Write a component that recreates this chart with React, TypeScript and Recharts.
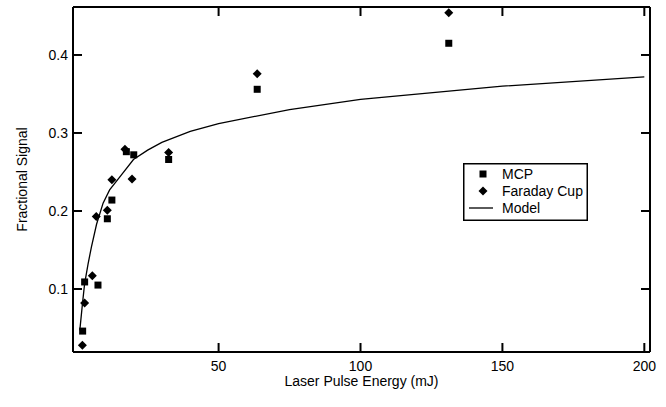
import React from 'react';
import { ComposedChart, Scatter, Line, XAxis, YAxis, Legend, Label } from 'recharts';

// ---- data ----
const mcpX = [2.1, 2.8, 7.5, 10.8, 12.4, 17.5, 20.1, 32.4, 63.6, 131.1];
const mcpY = [0.046, 0.109, 0.105, 0.19, 0.214, 0.276, 0.272, 0.266, 0.356, 0.415];

const faradayX = [2.0, 2.8, 5.5, 6.9, 10.8, 12.4, 17.0, 19.5, 32.4, 63.6, 131.1];
const faradayY = [0.028, 0.082, 0.117, 0.193, 0.201, 0.24, 0.279, 0.241, 0.275, 0.376, 0.454];

const modelX = [1.1, 2, 2.8, 4, 5.2, 7, 9.3, 11.6, 15.7, 20, 25, 30, 40, 50, 75, 100, 150, 200];
const modelY = [0.047, 0.08, 0.107, 0.132, 0.154, 0.183, 0.21, 0.227, 0.246, 0.266, 0.278, 0.288, 0.302, 0.312, 0.33, 0.343, 0.36, 0.372];

const xTicks = [50, 100, 150, 200];
const yTicks = [0.1, 0.2, 0.3, 0.4];
const xDomain = [-1.3, 202];
const yDomain = [0.0192, 0.4615];

const seriesNames = ['MCP', 'Faraday Cup', 'Model'];
const axisTitles = { x: 'Laser Pulse Energy (mJ)', y: 'Fractional Signal' };

const mcpData = mcpX.map((x, i) => ({ x, y: mcpY[i] }));
const faradayData = faradayX.map((x, i) => ({ x, y: faradayY[i] }));
const modelData = modelX.map((x, i) => ({ x, y: modelY[i] }));

const FONT = '"Liberation Sans", Arial, Helvetica, sans-serif';
const FS = 14;
const TICK_LEN = 9;
const TICK_W = 2;
const TM = 10; // tick margin given to recharts, used to recover the axis position
const TC = '#000';

const SquareShape = (p: any) => <rect x={p.cx - 3.5} y={p.cy - 3.5} width={7} height={7} fill="#000" />;
const DiamondShape = (p: any) => (
  <polygon points={`${p.cx},${p.cy - 4.5} ${p.cx + 4.5},${p.cy} ${p.cx},${p.cy + 4.5} ${p.cx - 4.5},${p.cy}`} fill="#000" />
);

// inward ticks drawn by custom tick renderers
const BottomTick = (p: any) => {
  const ax = Number(p.y) - TM;
  const x = Number(p.x);
  return (
    <g>
      <path d={`M${x},${ax}L${x},${ax - TICK_LEN}`} stroke={TC} strokeWidth={TICK_W} fill="none" />
      <text x={x} y={ax + 19} textAnchor="middle" fill="#000" fontSize={FS} fontFamily={FONT}>{String(p.payload.value)}</text>
    </g>
  );
};
const TopTick = (p: any) => {
  const ax = Number(p.y) + TM;
  const x = Number(p.x);
  return <path d={`M${x},${ax}L${x},${ax + TICK_LEN}`} stroke={TC} strokeWidth={TICK_W} fill="none" />;
};
const LeftTick = (p: any) => {
  const ax = Number(p.x) + TM;
  const y = Number(p.y);
  return (
    <g>
      <path d={`M${ax},${y}L${ax + TICK_LEN},${y}`} stroke={TC} strokeWidth={TICK_W} fill="none" />
      <text x={ax - 5} y={y} textAnchor="end" dominantBaseline="central" fill="#000" fontSize={FS} fontFamily={FONT}>{String(p.payload.value)}</text>
    </g>
  );
};
const RightTick = (p: any) => {
  const ax = Number(p.x) - TM;
  const y = Number(p.y);
  return <path d={`M${ax},${y}L${ax - TICK_LEN},${y}`} stroke={TC} strokeWidth={TICK_W} fill="none" />;
};

const renderYTitle = (props: any) => {
  const vb = props && props.viewBox && props.viewBox.height ? props.viewBox : { x: 0, y: 7, width: 73, height: 345 };
  const cx = vb.x + 22;
  const cy = vb.y + vb.height / 2;
  return (
    <text x={cx} y={cy} transform={`rotate(-90 ${cx} ${cy})`} textAnchor="middle" dominantBaseline="central" fill="#000" stroke="none" fontSize={FS} fontFamily={FONT}>
      {axisTitles.y}
    </text>
  );
};

const LegendBox = () => {
  const rows = [11, 28, 45];
  return (
    <svg width={125} height={58} style={{ display: 'block' }}>
      <rect x={0.75} y={0.75} width={123.5} height={56.5} fill="#fff" stroke="#000" strokeWidth={1.5} />
      <rect x={20 - 3.5} y={rows[0] - 3.5} width={7} height={7} fill="#000" />
      <polygon points={`20,${rows[1] - 4.5} 24.5,${rows[1]} 20,${rows[1] + 4.5} 15.5,${rows[1]}`} fill="#000" />
      <path d={`M6,${rows[2]}L30,${rows[2]}`} stroke="#000" strokeWidth={1.3} fill="none" />
      {seriesNames.map((n, i) => (
        <text key={n} x={39} y={rows[i]} dominantBaseline="central" fontSize={FS} fontFamily={FONT} fill="#000">{n}</text>
      ))}
    </svg>
  );
};

const axisLine = { stroke: '#000', strokeWidth: 2 };

export default function App() {
  return (
    <div style={{ position: 'absolute', left: 0, top: 0, width: 666, height: 407, background: '#fff', fontFamily: FONT }}>
      <ComposedChart width={666} height={407} margin={{ top: 0, right: 0, bottom: 0, left: 0 }}>
        <XAxis xAxisId="b" type="number" dataKey="x" domain={xDomain} ticks={xTicks} allowDataOverflow height={55}
          tickSize={0} tickMargin={TM} stroke="#000" axisLine={axisLine} tickLine={false} tick={<BottomTick />}>
          <Label value={axisTitles.x} position="insideBottom" offset={21} fill="#000" fontSize={FS} fontFamily={FONT} />
        </XAxis>
        <XAxis xAxisId="t" orientation="top" type="number" dataKey="x" domain={xDomain} ticks={xTicks} allowDataOverflow height={7}
          tickSize={0} tickMargin={TM} stroke="#000" axisLine={axisLine} tickLine={false} tick={<TopTick />} />
        <YAxis yAxisId="l" type="number" dataKey="y" domain={yDomain} ticks={yTicks} allowDataOverflow width={73}
          tickSize={0} tickMargin={TM} stroke="#000" axisLine={axisLine} tickLine={false} tick={<LeftTick />}>
          <Label content={renderYTitle} />
        </YAxis>
        <YAxis yAxisId="r" orientation="right" type="number" dataKey="y" domain={yDomain} ticks={yTicks} allowDataOverflow width={16}
          tickSize={0} tickMargin={TM} stroke="#000" axisLine={axisLine} tickLine={false} tick={<RightTick />} />
        <Line data={modelData} dataKey="y" xAxisId="b" yAxisId="l" type="linear" dot={false} activeDot={false}
          stroke="#000" strokeWidth={1.3} name={seriesNames[2]} isAnimationActive={false} />
        <Scatter data={faradayData} xAxisId="b" yAxisId="l" shape={DiamondShape} name={seriesNames[1]} isAnimationActive={false} />
        <Scatter data={mcpData} xAxisId="b" yAxisId="l" shape={SquareShape} name={seriesNames[0]} isAnimationActive={false} />
        <Legend layout="vertical" align="center" verticalAlign="middle" content={<LegendBox />}
          wrapperStyle={{ position: 'absolute', left: 463, top: 163, width: 125, height: 58 }} />
      </ComposedChart>
    </div>
  );
}
